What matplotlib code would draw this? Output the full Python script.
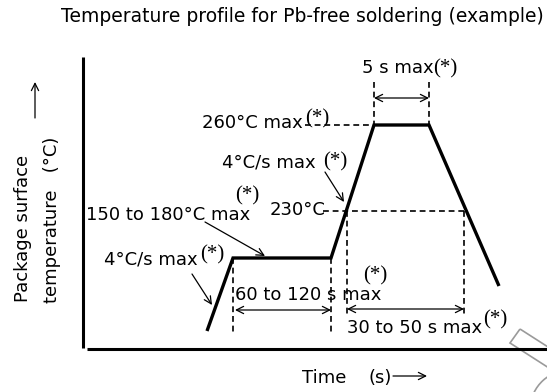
"""Schematic reflow temperature profile for Pb-free soldering."""
import matplotlib
matplotlib.use("Agg")
import matplotlib.pyplot as plt
from matplotlib.patches import Polygon, Arc

# Profile corners in drawing units (x grows with time, y grows downward)
profile_x = [207, 233, 331, 374, 429, 499]
profile_y = [331, 258, 258, 125, 125, 286]

title = "Temperature profile for Pb-free soldering (example)"
ylabel_lines = ["Package surface", "temperature   (°C)"]
labels = ["5 s max", "260°C max", "4°C/s max", "230°C", "150 to 180°C max",
          "4°C/s max", "60 to 120 s max", "30 to 50 s max"]
note = "(*)"

SANS = "DejaVu Sans"
SERIF = "Liberation Serif"
FS = 13
NFS = 15

fig = plt.figure(figsize=(5.47, 3.92), dpi=100)
ax = fig.add_axes([0, 0, 1, 1])
ax.set_xlim(0, 547)
ax.set_ylim(392, 0)
ax.axis("off")

DASH = dict(color="black", lw=1.2, linestyle=(0, (3.5, 2.3)))


def dashed(xs, ys):
    ax.plot(xs, ys, **DASH)


def span(x0, x1, y):
    ax.annotate("", xy=(x1, y), xytext=(x0, y),
                arrowprops=dict(arrowstyle="<->", lw=0.9, color="black",
                                shrinkA=0, shrinkB=0, mutation_scale=13))


def pointer(x0, y0, x1, y1):
    ax.annotate("", xy=(x1, y1), xytext=(x0, y0),
                arrowprops=dict(arrowstyle="->", lw=0.9, color="black",
                                shrinkA=0, shrinkB=0, mutation_scale=13))


def txt(x, y, s, **kw):
    ax.text(x, y, s, fontsize=FS, family=SANS, ha="left", va="baseline", **kw)


def star(x, y):
    ax.text(x, y, note, fontsize=NFS, family=SERIF, ha="left", va="baseline")


# axes frame
ax.plot([83, 83], [57, 348], color="black", lw=2.2, solid_capstyle="butt")
ax.plot([87, 547], [349, 349], color="black", lw=2.2, solid_capstyle="butt")

# guide lines
dashed([305, 372], [125, 125])
dashed([374, 374], [82, 125])
dashed([429, 429], [82, 125])
dashed([323, 464], [211, 211])
dashed([347, 347], [211, 315])
dashed([464, 464], [211, 315])
dashed([233, 233], [258, 334])
dashed([331, 331], [258, 335])

# temperature profile
ax.plot(profile_x, profile_y, color="black", lw=2.4, solid_joinstyle="miter",
        solid_capstyle="butt", zorder=3)

# durations
span(374, 429, 98)
span(235, 331, 310)
span(347, 464, 309)

# callouts
pointer(325, 172, 344, 202)
pointer(205, 222, 265, 256)
pointer(192, 274, 212, 305)

# labels
ax.text(302, 22, title, fontsize=13.5, family=SANS, ha="center", va="baseline")
txt(362, 73, labels[0]); star(433, 73)
txt(202, 128, labels[1]); star(305, 123)
txt(222, 167, labels[2]); star(323, 166)
txt(270, 215, labels[3])
star(235, 200)
txt(86, 220, labels[4])
txt(104, 265, labels[5]); star(200, 259)
txt(235, 300, labels[6]); star(363, 280)
txt(347, 333, labels[7]); star(483, 324)

# axis titles
ax.text(23, 228, ylabel_lines[0], fontsize=FS, family=SANS, rotation=90,
        ha="center", va="center")
ax.text(52, 220, ylabel_lines[1], fontsize=FS, family=SANS, rotation=90,
        ha="center", va="center")
pointer(35, 118, 35, 82)
txt(302, 383, "Time")
txt(369, 383, "(s)")
pointer(393, 376, 427, 376)

# faint stamp outline in the corner
ax.add_patch(Polygon([(520, 329), (510, 343), (577, 386), (587, 372)],
                     closed=True, fill=False, edgecolor="#9a9a9a", lw=1.2))
ax.add_patch(Arc((570, 410), 80, 80, theta1=205, theta2=250,
                 edgecolor="#9a9a9a", lw=1.2))

fig.savefig("out.png", dpi=100)
